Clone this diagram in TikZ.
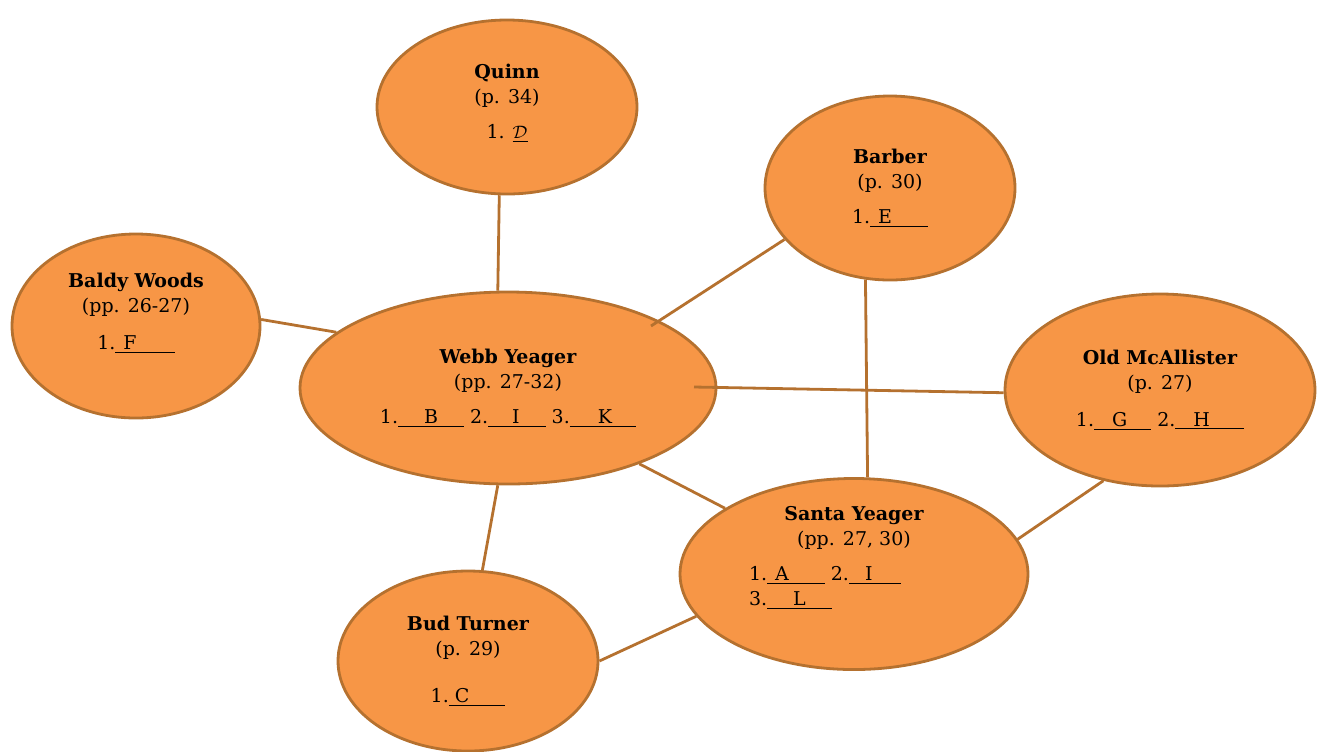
\documentclass[tikz,border=0pt]{standalone}
\usepackage{fontspec}
\setmainfont{DejaVu Serif}
\usepackage{tikz}
\usetikzlibrary{shapes.geometric}

\definecolor{personorange}{HTML}{F79646}
\definecolor{edgebrown}{HTML}{B5712F}
\newcommand{\blank}[3]{\underline{\hspace{#1}#2\hspace{#3}}}

\begin{document}
\begin{tikzpicture}[
		x=0.5pt, y=-0.5pt,
		person/.style={
			shape=ellipse,
			draw=edgebrown,
			line width=1.4pt,
			fill=personorange,
			align=center,
			inner sep=0pt,
			font=\fontsize{9.5}{12.5}\selectfont
		},
		link/.style={draw=edgebrown, line width=1.4pt}
		]
		\useasboundingbox (0,0) rectangle (1321,751);

		\node[person, minimum width=130pt, minimum height=87pt] (quinn) at (507,107)
			{\textbf{Quinn} \\ (p. 34) \\[5pt] 1. \underline{$\mathcal{D}$}\rule[-6pt]{0pt}{6pt}};
		\node[person, minimum width=125pt, minimum height=92pt] (barber) at (890,188)
			{\textbf{Barber} \\ (p. 30) \\[5pt] 1.\blank{4pt}{E}{18pt}};
		\node[person, minimum width=124pt, minimum height=92pt] (baldy) at (136,326)
			{\textbf{Baldy Woods} \\ (pp. 26-27) \\[6pt] 1.\blank{4pt}{F}{19pt}\rule[-15pt]{0pt}{15pt}};
		\node[person, minimum width=208pt, minimum height=96pt] (webb) at (508,388)
			{\textbf{Webb Yeager} \\ (pp. 27-32) \\[5pt] 1.\blank{13pt}{B}{13pt} 2.\blank{12pt}{I}{13pt} 3.\blank{14pt}{K}{12pt}};
		\node[person, minimum width=155pt, minimum height=96pt] (mcallister) at (1160,390)
			{\textbf{Old McAllister} \\ (p. 27) \\[6pt] 1.\blank{9pt}{G}{12pt} 2.\blank{9pt}{H}{17pt}};
		\node[person, minimum width=174pt, minimum height=92pt] (santa) at (854,574)
			{\textbf{Santa Yeager} \\ (pp. 27, 30) \\[5pt]
			\makebox[105pt][l]{1.\blank{4pt}{A}{18pt} 2.\blank{8pt}{I}{14pt}} \\
			\makebox[105pt][l]{3.\blank{13pt}{L}{13pt}\rule[-18pt]{0pt}{18pt}}};
		\node[person, minimum width=130pt, minimum height=90pt] (bud) at (468,661)
			{\textbf{Bud Turner} \\ (p. 29) \\[11pt] 1.\blank{3pt}{C}{18pt}};

		% ends that stop inside Webb Yeager
		\coordinate (webbne) at (651,326);
		\coordinate (webbe) at (694,387);

		\draw[link] (quinn.265.5) -- (webb.96.5);
		\draw[link] (barber.206) -- (webbne);
		\draw[link] (baldy.3.7) -- (webb.162.4);
		\draw[link] (webbe) -- (mcallister.181.5);
		\draw[link] (barber.255.5) -- (santa.82.5);
		\draw[link] (webb.330) -- (santa.153);
		\draw[link] (mcallister.238.7) -- (santa.12.5);
		\draw[link] (bud.81.7) -- (webb.264);
		\draw[link] (bud.0) -- (santa.195.9);
	\end{tikzpicture}
\end{document}
